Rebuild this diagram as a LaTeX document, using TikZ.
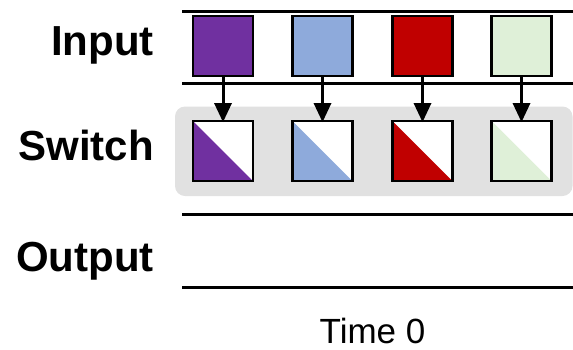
\documentclass[tikz,border=0pt]{standalone}
\usepackage{fontspec}
\setmainfont{Liberation Sans}
\usetikzlibrary{arrows.meta}

\definecolor{cpurple}{HTML}{7030A0}
\definecolor{cblue}{HTML}{8EAADB}
\definecolor{cred}{HTML}{C00000}
\definecolor{cgreen}{HTML}{DFF0D8}
\definecolor{cpanel}{HTML}{E1E1E1}

\tikzset{
  rail/.style={line width=3pt},
  cell/.style={draw, line width=2.5pt, minimum size=60pt, inner sep=0pt, outer sep=0pt},
  incell/.style={cell, fill=#1},
  swcell/.style={cell, fill=white, path picture={
      \fill[#1] (path picture bounding box.north west) --
                (path picture bounding box.south west) --
                (path picture bounding box.south east) -- cycle;}},
  feed/.style={line width=3pt, -{Triangle[width=18pt,length=19pt,line width=0pt]}, shorten >=-1pt},
  rowlabel/.style={font=\bfseries\fontsize{42}{44}\selectfont, anchor=base east, inner sep=0pt},
}

\begin{document}
\begin{tikzpicture}[x=1pt, y=-1pt]
  \useasboundingbox (0,0) rectangle (573,349);
  \clip (0,0) rectangle (573,349);

  % switch panel
  \fill[cpanel, rounded corners=10pt] (175,106.5) rectangle (572.5,196);

  % row rails
  \draw[rail] (182,11) -- (573,11);
  \draw[rail] (182,83) -- (573,83);
  \draw[rail] (182,214) -- (573,214);
  \draw[rail] (182,287) -- (573,287);

  % input cells
  \node[incell=cpurple] (in1) at (223,46) {};
  \node[incell=cblue]   (in2) at (322.5,46) {};
  \node[incell=cred]    (in3) at (422.5,46) {};
  \node[incell=cgreen]  (in4) at (521.5,46) {};

  % switch cells
  \node[swcell=cpurple] (sw1) at (223,151) {};
  \node[swcell=cblue]   (sw2) at (322.5,151) {};
  \node[swcell=cred]    (sw3) at (422.5,151) {};
  \node[swcell=cgreen]  (sw4) at (521.5,151) {};

  % feeds
  \foreach \i in {1,...,4} \draw[feed] (in\i) -- (sw\i);

  % labels
  \node[rowlabel] (lin)  at (154,55)  {Input};
  \node[rowlabel] (lsw)  at (154,160) {Switch};
  \node[rowlabel] (lout) at (154,271) {Output};
  \node[font=\fontsize{35}{37}\selectfont, anchor=base, inner sep=0pt] (time) at (372.5,343) {Time 0};
\end{tikzpicture}
\end{document}
